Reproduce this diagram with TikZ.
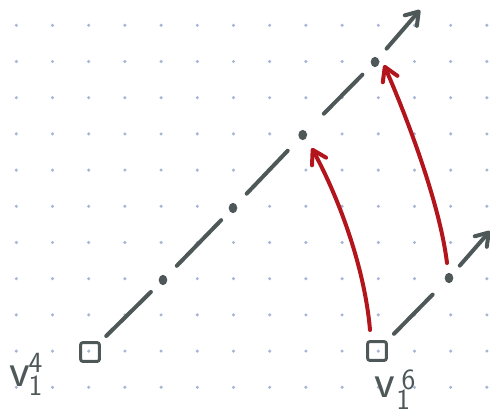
\documentclass[tikz,border=0pt]{standalone}
\usetikzlibrary{arrows.meta,shapes.geometric}
\definecolor{ink}{RGB}{78,88,88}
\definecolor{redink}{RGB}{178,22,28}
\definecolor{griddot}{RGB}{168,182,214}
\newcommand\labscr[1]{{\fontsize{22}{22}\selectfont #1}}
\begin{document}
\begin{tikzpicture}[x=0.75pt,y=-0.75pt,
  gdot/.style={circle,fill=griddot,inner sep=0pt,minimum size=2.6pt},
  ptdot/.style={ellipse,fill=ink,inner sep=0pt,minimum width=6.5pt,minimum height=7.8pt},
  sqbox/.style={draw=ink,line width=2.2pt,inner sep=0pt,minimum size=14pt,rounded corners=1.5pt},
  seg/.style={draw=ink,line width=3pt,line cap=round},
  barb/.style={-{Straight Barb[length=9pt,width=12pt,round]}},
  redarr/.style={draw=redink,line width=3pt,line cap=round,-{Straight Barb[length=10pt,width=12pt,round]}},
  lab/.style={text=ink,inner sep=0pt,anchor=base west,font=\sffamily\fontsize{36}{36}\selectfont}
]
\useasboundingbox (0,0) rectangle (490,411);
\foreach \i in {0,...,13}
  \foreach \j in {0,...,10}
    \node[gdot] (g-\i-\j) at ({16.3+36.2*\i},{25.3+36.2*\j}) {};

% squares
\node[sqbox] (s4) at (90,352) {};
\node[sqbox] (s6) at (377,351) {};
% labels
\node[lab] (l4) at (9,386) {v\kern-1pt\rlap{\raisebox{-7pt}{\labscr{1}}}\raisebox{10pt}{\labscr{4}}};
\node[lab] (l6) at (374,397) {v\kern1pt\rlap{\raisebox{-9pt}{\labscr{1}}}\kern4pt\raisebox{5.5pt}{\labscr{6}}};
% points
\node[ptdot] (d1) at (163,280) {};
\node[ptdot] (d2) at (233,208) {};
\node[ptdot] (d3) at (302.7,135) {};
\node[ptdot] (d4) at (375,62) {};
\node[ptdot] (e1) at (449,278) {};
\coordinate (t1) at (420,10);
\coordinate (t2) at (490,231);

% main dashed line
\draw[seg,shorten <=17.1pt,shorten >=12.75pt] (s4.center) -- (d1.center);
\draw[seg,shorten <=14.85pt,shorten >=12.75pt] (d1.center) -- (d2.center);
\draw[seg,shorten <=14.85pt,shorten >=16.3pt] (d2.center) -- (d3.center);
\draw[seg,shorten <=22.5pt,shorten >=13.4pt] (d3.center) -- (d4.center);
\draw[seg,barb,shorten <=13.3pt] (d4.center) -- (t1);
% second line
\draw[seg,shorten <=18.1pt,shorten >=17.5pt] (s6.center) -- (e1.center);
\draw[seg,barb,shorten <=12.3pt] (e1.center) -- (t2);

% red arrows
\draw[redarr] ([shift={(-7,-21)}]s6.center) .. controls (365,270) and (340,200) .. ([shift={(9,13)}]d3.center);
\draw[redarr] ([shift={(-2,-15)}]e1.center) .. controls (440,205) and (408,120) .. ([shift={(9,3)}]d4.center);
\end{tikzpicture}
\end{document}
